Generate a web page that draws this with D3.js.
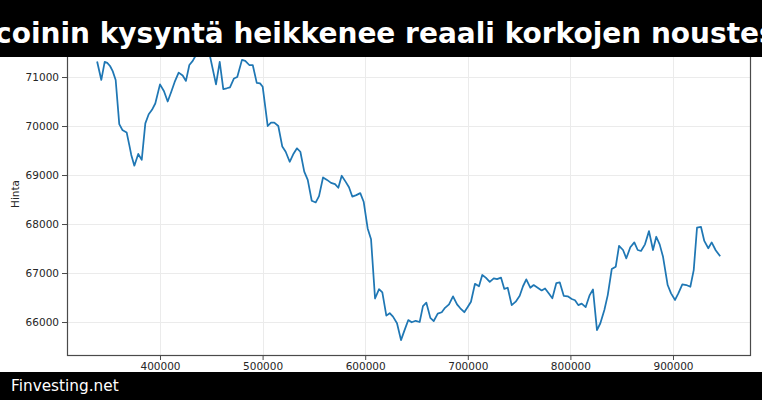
<!DOCTYPE html>
<html>
<head>
<meta charset="utf-8">
<script src="https://cdn.jsdelivr.net/npm/d3@7"></script>
<style>
  html, body { margin: 0; padding: 0; background: #ffffff; }
  svg { display: block; }
</style>
</head>
<body>
<svg id="chart" width="762" height="400"></svg>
<script>
const titleText = "Bitcoinin kysyntä heikkenee reaali korkojen noustessa";
const footerText = "Finvesting.net";
const yAxisLabel = "Hinta";

const xTicks = [400000, 500000, 600000, 700000, 800000, 900000];
const yTicks = [66000, 67000, 68000, 69000, 70000, 71000];

const xValues = [
  338900, 342800, 346100, 348600, 351300, 353900, 356800, 360300, 363300, 367500,
  370100, 372000, 375000, 378800, 382200, 385700, 389000, 392200, 395400, 400000,
  403900, 407500, 411000, 414300, 418200, 422100, 425300, 428600, 431900, 435100,
  438500, 441900, 445300, 448700, 454600, 458200, 461700, 465000, 468200, 472100,
  475300, 479900, 483100, 487000, 490400, 494300, 497500, 500100, 505000, 508200,
  511400, 515300, 519200, 522500, 526400, 530300, 533500, 536800, 540600, 544000,
  547900, 551800, 555000, 558900, 562800, 566700, 570600, 573800, 577100, 581000,
  584200, 587400, 591300, 595200, 598500, 602400, 605700, 609600, 613500, 616700,
  620600, 623900, 627100, 631000, 634900, 638100, 642000, 645300, 649200, 653100,
  656300, 659600, 663500, 666800, 670700, 674600, 677800, 681700, 685600, 689500,
  692700, 696600, 699900, 703100, 707000, 710900, 714100, 717500, 721400, 725300,
  728500, 732400, 735600, 738900, 742800, 746700, 750600, 753800, 757000, 760900,
  764200, 768100, 772000, 775300, 779200, 782400, 786300, 789600, 793500, 797400,
  801300, 804500, 807700, 811000, 814900, 818800, 822000, 825900, 829200, 833100,
  836400, 840300, 844200, 847400, 851300, 854500, 858400, 862300, 865600, 868800,
  872700, 876600, 880500, 883700, 887000, 890300, 894800, 898100, 902000, 905200,
  909100, 913000, 916900, 920200, 923400, 927300, 930500, 934400, 937700, 941600,
  945500
];

const prices = [
  71300, 70940, 71310, 71290, 71225, 71120, 70940, 70040, 69920, 69870,
  69610, 69410, 69190, 69430, 69310, 70055, 70240, 70330, 70460, 70850,
  70710, 70500, 70700, 70900, 71090, 71030, 70920, 71245, 71330, 71450,
  71550, 71630, 71570, 71430, 70850, 71310, 70755, 70770, 70790, 70970,
  71000, 71350, 71330, 71245, 71245, 70880, 70870, 70800, 70000, 70070,
  70070, 70000, 69580, 69475, 69270, 69440, 69545, 69475, 69070, 68900,
  68475, 68440, 68570, 68950, 68900, 68840, 68815, 68740, 68985, 68860,
  68750, 68560, 68590, 68630, 68455, 67910, 67690, 66480, 66670, 66605,
  66130, 66180, 66110, 65975, 65630, 65820, 66040, 65995, 66025, 66000,
  66325, 66395, 66085, 66020, 66170, 66200, 66290, 66360, 66525, 66360,
  66280, 66200, 66305, 66415, 66780, 66730, 66960, 66905, 66820, 66890,
  66875, 66905, 66675, 66700, 66345, 66415, 66535, 66730, 66870, 66700,
  66755, 66700, 66645, 66685, 66575, 66485, 66795, 66810, 66535, 66525,
  66470, 66445, 66345, 66375, 66305, 66550, 66665, 65835, 65975, 66245,
  66550, 67080, 67130, 67555, 67470, 67300, 67525, 67625, 67470, 67450,
  67585, 67855, 67470, 67740, 67585, 67330, 66755, 66585, 66450, 66585,
  66770, 66755, 66720, 67060, 67925, 67940, 67655, 67505, 67625, 67465,
  67355
];

const svg = d3.select("#chart");
const W = 762, H = 400;
const plot = { left: 67, right: 750, top: 41, bottom: 355 };

const x = d3.scaleLinear().domain([309360, 975050]).range([plot.left, plot.right]);
const y = d3.scaleLinear().domain([65327, 71735]).range([plot.bottom, plot.top]);

const font = "'DejaVu Sans', sans-serif";
const textColor = "#262626";
const gridColor = "#ebebeb";
const spineColor = "#4a4a4a";

// grid
const g = svg.append("g");
g.selectAll("line.gx").data(xTicks).join("line")
  .attr("x1", d => Math.round(x(d)) + 0.5).attr("x2", d => Math.round(x(d)) + 0.5)
  .attr("y1", plot.top).attr("y2", plot.bottom)
  .attr("stroke", gridColor).attr("stroke-width", 1);
g.selectAll("line.gy").data(yTicks).join("line")
  .attr("x1", plot.left).attr("x2", plot.right)
  .attr("y1", d => Math.round(y(d)) + 0.5).attr("y2", d => Math.round(y(d)) + 0.5)
  .attr("stroke", gridColor).attr("stroke-width", 1);

// line
const line = d3.line().x((d, i) => x(xValues[i])).y(d => y(d));
svg.append("path").datum(prices)
  .attr("d", line)
  .attr("fill", "none")
  .attr("stroke", "#1f77b4")
  .attr("stroke-width", 1.75)
  .attr("stroke-linejoin", "round")
  .attr("stroke-linecap", "square");

// axes
const xAxis = d3.axisBottom(x).tickValues(xTicks).tickFormat(d3.format("d")).tickSize(5).tickPadding(3);
const yAxis = d3.axisLeft(y).tickValues(yTicks).tickFormat(d3.format("d")).tickSize(5).tickPadding(3);

const gx = svg.append("g").attr("transform", `translate(0,${plot.bottom})`).call(xAxis);
const gy = svg.append("g").attr("transform", `translate(${plot.left},0)`).call(yAxis);
[gx, gy].forEach(a => {
  a.select(".domain").remove();
  a.selectAll(".tick line").attr("stroke", spineColor).attr("stroke-width", 1);
  a.selectAll(".tick text").attr("fill", textColor).style("font-family", font).style("font-size", "10.5px");
});

// spines
svg.append("rect")
  .attr("x", plot.left + 0.5).attr("y", plot.top + 0.5)
  .attr("width", plot.right - plot.left).attr("height", plot.bottom - plot.top)
  .attr("fill", "none").attr("stroke", spineColor).attr("stroke-width", 1.2);

// y label
svg.append("text")
  .attr("transform", `translate(19,194) rotate(-90)`)
  .attr("text-anchor", "middle")
  .attr("fill", textColor)
  .style("font-family", font).style("font-size", "10.5px")
  .text(yAxisLabel);

// title bar
svg.append("rect").attr("x", 0).attr("y", 0).attr("width", W).attr("height", 57).attr("fill", "#000");
svg.append("text")
  .attr("x", W / 2).attr("y", 43)
  .attr("text-anchor", "middle")
  .attr("fill", "#fff")
  .style("font-family", font).style("font-weight", "bold").style("font-size", "28px")
  .text(titleText);

// footer bar
svg.append("rect").attr("x", 0).attr("y", 372).attr("width", W).attr("height", H - 372).attr("fill", "#000");
svg.append("text")
  .attr("x", 11).attr("y", 391)
  .attr("fill", "#fff")
  .style("font-family", font).style("font-size", "15.3px")
  .text(footerText);
</script>
</body>
</html>
